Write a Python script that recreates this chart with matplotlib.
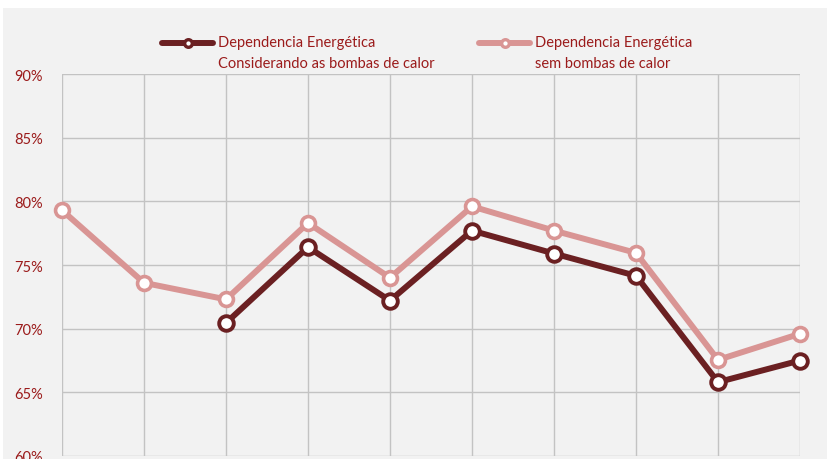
import matplotlib
matplotlib.use("Agg")
import matplotlib.pyplot as plt
from matplotlib.lines import Line2D
from matplotlib.patches import Rectangle
import numpy as np

plt.rcParams['font.family'] = ['Lato', 'DejaVu Sans']

# Data
x_index = list(range(10))
sem_bombas = [79.3, 73.6, 72.3, 78.3, 74.0, 79.6, 77.7, 75.95, 67.55, 69.6]
com_bombas = [None, None, 70.45, 76.4, 72.2, 77.7, 75.9, 74.15, 65.8, 67.5]
y_ticks = [60, 65, 70, 75, 80, 85, 90]
label_com = "Dependencia Energética\nConsiderando as bombas de calor"
label_sem = "Dependencia Energética\nsem bombas de calor"

dark = "#6b2022"
light = "#d99594"
txt = "#9b1b1b"
bg = "#f2f2f2"
grid = "#c3c3c3"

W, H = 827, 460
fig = plt.figure(figsize=(W/100, H/100), dpi=100)
fig.patch.set_facecolor("white")
fig.add_artist(Rectangle((3/W, 0), 1, (H-9)/H, transform=fig.transFigure,
                         facecolor=bg, edgecolor="none", zorder=0))

ax = fig.add_axes([62/W, 3/H, (800-62)/W, (457-75)/H])
ax.set_facecolor(bg)
ax.set_xlim(0, 9)
ax.set_ylim(60, 90)
ax.set_yticks(y_ticks)
ax.set_yticklabels([f"{v}%" for v in y_ticks], color=txt, fontsize=10.5)
ax.set_xticks(x_index)
ax.tick_params(axis='both', length=0, pad=14)
ax.tick_params(axis='x', labelbottom=False)
ax.grid(True, color=grid, linewidth=1)
for s in ax.spines.values():
    s.set_visible(False)
ax.set_axisbelow(True)

xs = np.array(x_index, dtype=float)
ls = np.array(sem_bombas, dtype=float)
lc = np.array([np.nan if v is None else v for v in com_bombas], dtype=float)

ax.plot(xs, ls, color=light, lw=4.3, marker='o', ms=10, mfc='white',
        mec=light, mew=2.6, clip_on=False, zorder=3)
ax.plot(xs, lc, color=dark, lw=4.3, marker='o', ms=10.5, mfc='white',
        mec=dark, mew=2.8, clip_on=False, zorder=4)

# Legend (manual)
def handle(x0, x1, y, c):
    fig.add_artist(Line2D([x0/W, x1/W], [1-y/H, 1-y/H], transform=fig.transFigure,
                          color=c, lw=4.3, solid_capstyle='round'))
    fig.add_artist(Line2D([(x0+x1)/2/W], [1-y/H], transform=fig.transFigure,
                          color=c, marker='o', ms=5.5, mfc='white', mec=c, mew=2.4))

handle(162, 213, 44, dark)
handle(479, 530, 44, light)
fig.text(218/W, 1-36/H, label_com, color=txt, fontsize=10.5, va='top', ha='left',
         linespacing=1.6)
fig.text(535/W, 1-36/H, label_sem, color=txt, fontsize=10.5, va='top', ha='left',
         linespacing=1.6)

fig.savefig("out.png", dpi=100, facecolor=fig.get_facecolor())
